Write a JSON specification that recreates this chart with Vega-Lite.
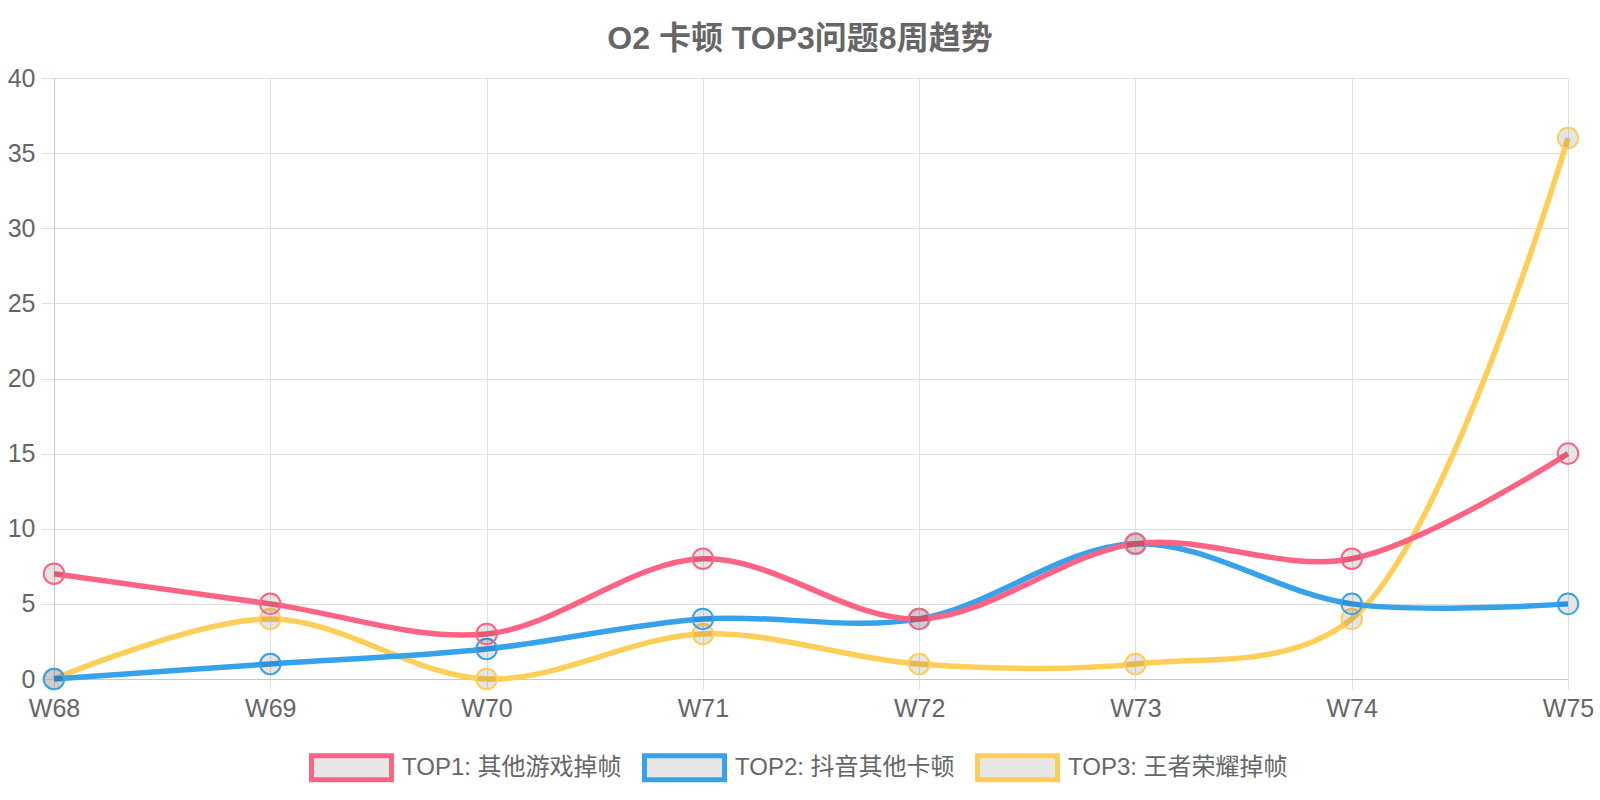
{
  "$schema": "https://vega.github.io/schema/vega-lite/v6.json",
  "width": 1514,
  "height": 601,
  "autosize": "none",
  "padding": {"left": 54, "top": 78, "right": 32, "bottom": 121},
  "background": "white",
  "title": {
    "text": "O2 卡顿 TOP3问题8周趋势",
    "fontSize": 32,
    "fontWeight": "bold",
    "color": "#666666",
    "font": "Liberation Sans, Noto Sans CJK SC",
    "anchor": "middle",
    "offset": 10,
    "dx": -11
  },
  "data": {
    "values": [
      {"week": "W68", "series": "TOP3: 王者荣耀掉帧", "value": 0},
      {"week": "W69", "series": "TOP3: 王者荣耀掉帧", "value": 4},
      {"week": "W70", "series": "TOP3: 王者荣耀掉帧", "value": 0},
      {"week": "W71", "series": "TOP3: 王者荣耀掉帧", "value": 3},
      {"week": "W72", "series": "TOP3: 王者荣耀掉帧", "value": 1},
      {"week": "W73", "series": "TOP3: 王者荣耀掉帧", "value": 1},
      {"week": "W74", "series": "TOP3: 王者荣耀掉帧", "value": 4},
      {"week": "W75", "series": "TOP3: 王者荣耀掉帧", "value": 36},
      {"week": "W68", "series": "TOP2: 抖音其他卡顿", "value": 0},
      {"week": "W69", "series": "TOP2: 抖音其他卡顿", "value": 1},
      {"week": "W70", "series": "TOP2: 抖音其他卡顿", "value": 2},
      {"week": "W71", "series": "TOP2: 抖音其他卡顿", "value": 4},
      {"week": "W72", "series": "TOP2: 抖音其他卡顿", "value": 4},
      {"week": "W73", "series": "TOP2: 抖音其他卡顿", "value": 9},
      {"week": "W74", "series": "TOP2: 抖音其他卡顿", "value": 5},
      {"week": "W75", "series": "TOP2: 抖音其他卡顿", "value": 5},
      {"week": "W68", "series": "TOP1: 其他游戏掉帧", "value": 7},
      {"week": "W69", "series": "TOP1: 其他游戏掉帧", "value": 5},
      {"week": "W70", "series": "TOP1: 其他游戏掉帧", "value": 3},
      {"week": "W71", "series": "TOP1: 其他游戏掉帧", "value": 8},
      {"week": "W72", "series": "TOP1: 其他游戏掉帧", "value": 4},
      {"week": "W73", "series": "TOP1: 其他游戏掉帧", "value": 9},
      {"week": "W74", "series": "TOP1: 其他游戏掉帧", "value": 8},
      {"week": "W75", "series": "TOP1: 其他游戏掉帧", "value": 15}
    ]
  },
  "encoding": {
    "x": {
      "field": "week",
      "type": "ordinal",
      "sort": null,
      "scale": {"type": "point", "padding": 0},
      "axis": {
        "title": null,
        "labelAngle": 0,
        "grid": true,
        "gridColor": "#e0e0e0",
        "tickColor": "#e0e0e0",
        "tickSize": 10,
        "domainColor": "#c8c8c8",
        "labelFontSize": 25,
        "labelFont": "Liberation Sans",
        "labelColor": "#666666",
        "labelPadding": 7
      }
    },
    "y": {
      "field": "value",
      "type": "quantitative",
      "scale": {"domain": [0, 40], "nice": false, "zero": true},
      "axis": {
        "title": null,
        "values": [0, 5, 10, 15, 20, 25, 30, 35, 40],
        "grid": true,
        "gridColor": "#e0e0e0",
        "tickColor": "#e0e0e0",
        "tickSize": 13,
        "domainColor": "#c8c8c8",
        "labelFontSize": 25,
        "labelFont": "Liberation Sans",
        "labelColor": "#666666",
        "labelPadding": 6
      }
    },
    "stroke": {
      "field": "series",
      "type": "nominal",
      "scale": {
        "domain": ["TOP1: 其他游戏掉帧", "TOP2: 抖音其他卡顿", "TOP3: 王者荣耀掉帧"],
        "range": ["#FF6384", "#36A2EB", "#FFCE56"]
      },
      "legend": {
        "title": null,
        "orient": "none",
        "direction": "horizontal",
        "legendX": 255,
        "legendY": 647,
        "padding": 0,
        "symbolType": "M-1,-0.3L1,-0.3L1,0.3L-1,0.3Z",
        "symbolSize": 6400,
        "symbolStrokeWidth": 5,
        "symbolOpacity": 1,
        "labelFontSize": 24,
        "labelFont": "Liberation Sans, Noto Sans CJK SC",
        "labelColor": "#666666",
        "labelOffset": 8,
        "columnPadding": 12,
        "labelLimit": 400,
        "encode": {
          "symbols": {
            "update": {
              "fill": {"value": "#e6e6e6"},
              "strokeWidth": {"value": 5},
              "opacity": {"value": 1}
            }
          }
        }
      }
    }
  },
  "layer": [
    {
      "mark": {
        "type": "line",
        "interpolate": "catmull-rom",
        "strokeWidth": 5.5
      }
    },
    {
      "mark": {
        "type": "point",
        "shape": "circle",
        "filled": false,
        "fill": "rgba(0,0,0,0.1)",
        "fillOpacity": 1,
        "size": 420,
        "strokeWidth": 2,
        "opacity": 1
      }
    }
  ]
}
